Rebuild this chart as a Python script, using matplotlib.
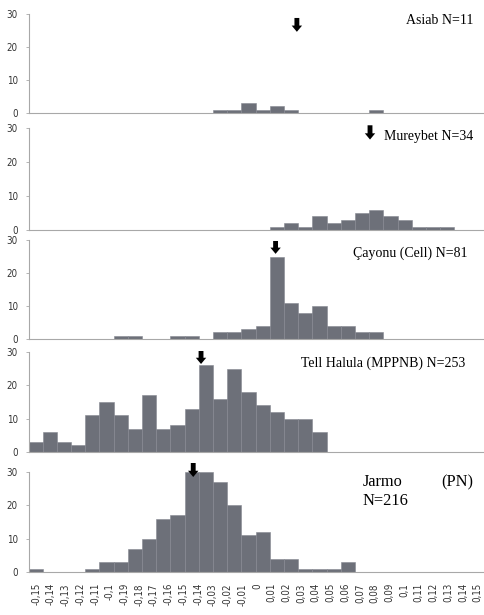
import matplotlib
matplotlib.use("Agg")
import matplotlib.pyplot as plt

# ---- data ----
labels = ["-0,15", "-0,14", "-0,13", "-0,12", "-0,11", "-0,1", "-0,19", "-0,18", "-0,17",
          "-0,16", "-0,15", "-0,14", "-0,03", "-0,02", "-0,01", "0", "0,01", "0,02", "0,03",
          "0,04", "0,05", "0,06", "0,07", "0,08", "0,09", "0,1", "0,11", "0,12", "0,13",
          "0,14", "0,15"]
n_bins = 32

asiab = {13: 1, 14: 1, 15: 3, 16: 1, 17: 2, 18: 1, 24: 1}
mureybet = {17: 1, 18: 2, 19: 1, 20: 4, 21: 2, 22: 3, 23: 5, 24: 6, 25: 4, 26: 3, 27: 1, 28: 1, 29: 1}
cayonu = {6: 1, 7: 1, 10: 1, 11: 1, 13: 2, 14: 2, 15: 3, 16: 4, 17: 25, 18: 11, 19: 8, 20: 10,
          21: 4, 22: 4, 23: 2, 24: 2}
halula = [3, 6, 3, 2, 11, 15, 11, 7, 17, 7, 8, 13, 26, 16, 25, 18, 14, 12, 10, 10, 6]
jarmo = [1, 0, 0, 0, 1, 3, 3, 7, 10, 16, 17, 30, 30, 27, 20, 11, 12, 4, 4, 1, 1, 1, 3]

titles = ["Asiab N=11", "Mureybet N=34", "Çayonu (Cell) N=81", "Tell Halula (MPPNB) N=253",
          "Jarmo", "(PN)", "N=216"]
# arrow (mean) positions in bin units, and arrow top / tip heights
arrow_x = [18.4, 23.55, 16.9, 11.65, 11.1]
arrow_top = [28.8, 30.8, 29.7, 30.3, 32.7]
arrow_tip = [24.6, 26.6, 25.8, 26.4, 28.5]


def to_list(d):
    if isinstance(d, dict):
        return [d.get(i, 0) for i in range(n_bins)]
    return list(d) + [0] * (n_bins - len(d))


series = [to_list(asiab), to_list(mureybet), to_list(cayonu), to_list(halula), to_list(jarmo)]

# ---- layout ----
W, H = 485, 615
fig = plt.figure(figsize=(W / 100, H / 100), dpi=100)
# (baseline px, top(30) px)
panel_px = [(113, 14), (230, 128), (339, 240), (452, 352), (572, 472)]
ax_left, ax_right = 29, 485
x0, bw = 28.5, 14.2
xlim = ((ax_left - x0) / bw - 0.5, (ax_right - x0) / bw - 0.5)

tick_font = dict(family="DejaVu Sans", stretch="condensed", size=7, color="#333333")
bar_color = "#6d7079"
edge_color = "#858891"
spine_color = "#a8a8a8"

text_pos = [(473, 21), (473, 136), (468, 253), (465, 363)]

for k, (vals, (yb, yt)) in enumerate(zip(series, panel_px)):
    ax = fig.add_axes([ax_left / W, 1 - yb / H, (ax_right - ax_left) / W, (yb - yt) / H])
    ax.patch.set_alpha(0)
    xs = list(range(n_bins))
    ax.bar(xs, vals, width=1.0, color=bar_color, edgecolor=edge_color, linewidth=0.4, zorder=2)
    ax.set_xlim(*xlim)
    ax.set_ylim(0, 30)
    ax.set_yticks([0, 10, 20, 30])
    ax.set_yticklabels(["0", "10", "20", "30"], fontdict=tick_font)
    ax.tick_params(axis="y", length=2, width=0.6, color=spine_color, pad=6)
    ax.set_xticks([])
    for s in ["top", "right"]:
        ax.spines[s].set_visible(False)
    for s in ["left", "bottom"]:
        ax.spines[s].set_color(spine_color)
        ax.spines[s].set_linewidth(0.8)

    # mean arrow
    ax.annotate("", xy=(arrow_x[k], arrow_tip[k]), xytext=(arrow_x[k], arrow_top[k]),
                arrowprops=dict(arrowstyle="simple,head_width=0.75,head_length=0.45,tail_width=0.35",
                                color="black", lw=0, shrinkA=0, shrinkB=0, mutation_scale=10),
                annotation_clip=False)

    if k < 4:
        tx, ty = text_pos[k]
        fig.text(tx / W, 1 - ty / H, titles[k], ha="right", va="center",
                 family="Liberation Serif", size=10)
    else:
        fig.text(363 / W, 1 - 482 / H, titles[4], ha="left", va="center",
                 family="Liberation Serif", size=11.8)
        fig.text(473 / W, 1 - 482 / H, titles[5], ha="right", va="center",
                 family="Liberation Serif", size=11.8)
        fig.text(363 / W, 1 - 501 / H, titles[6], ha="left", va="center",
                 family="Liberation Serif", size=11.8)

        ax2 = ax.twiny()
        ax2.set_xlim(-0.5, len(labels) - 0.5)
        ax2.set_xticks(range(len(labels)))
        ax2.set_xticklabels(labels, rotation=90, fontdict=tick_font)
        ax2.xaxis.set_ticks_position("bottom")
        ax2.xaxis.set_label_position("bottom")
        ax2.tick_params(axis="x", length=0, pad=8)
        for s in ax2.spines.values():
            s.set_visible(False)

fig.savefig("out.png", dpi=100)
